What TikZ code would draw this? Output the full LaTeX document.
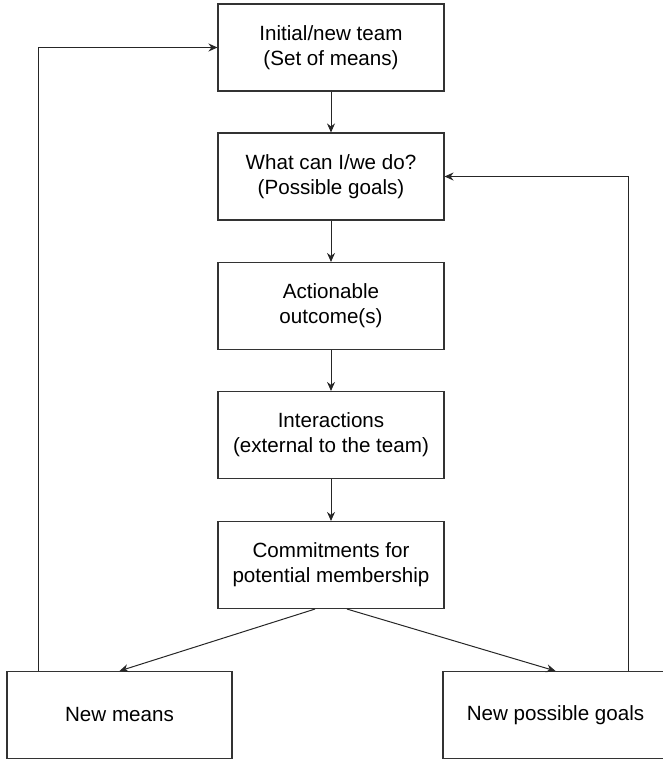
\documentclass[tikz,border=0pt]{standalone}
\usepackage{fontspec}
\setmainfont{Liberation Sans}
\usepackage{tikz}
\usetikzlibrary{arrows.meta,positioning}

\begin{document}
\begin{tikzpicture}[x=0.5pt, y=-0.5pt,
    box/.style={draw=black!80, line width=0.55pt, minimum width=113pt, minimum height=43.5pt,
        align=center, inner sep=0pt, font=\fontsize{10.3}{12.5}\selectfont},
    flow/.style={draw=black!85, line width=0.5pt, -{Stealth[length=4.5pt,width=4pt]}}]
    \useasboundingbox (0,0) rectangle (663,760);
    \node[box] (team) at (331,47.5) {Initial/new team\\(Set of means)};
    \node[box] (goals) at (331,176.5) {What can I/we do?\\(Possible goals)};
    \node[box] (outcome) at (331,306) {Actionable\\outcome(s)};
    \node[box] (interact) at (331,435) {Interactions\\(external to the team)};
    \node[box] (commit) at (331,565) {Commitments for\\potential membership};
    \node[box, minimum width=112.5pt] (means) at (119.5,715) {New means};
    \node[box, minimum width=112.5pt] (newgoals) at (555.5,715) {New possible goals};
    \draw[flow] (team) -- (goals);
    \draw[flow] (goals) -- (outcome);
    \draw[flow] (outcome) -- (interact);
    \draw[flow] (interact) -- (commit);
    \draw[flow] ([xshift=-8pt]commit.south) -- (means.north);
    \draw[flow] ([xshift=8pt]commit.south) -- (newgoals.north);
    \draw[flow] ([xshift=16pt]means.north west) |- (team.west);
    \draw[flow] ([xshift=-20pt]newgoals.north east) |- (goals.east);
\end{tikzpicture}
\end{document}
